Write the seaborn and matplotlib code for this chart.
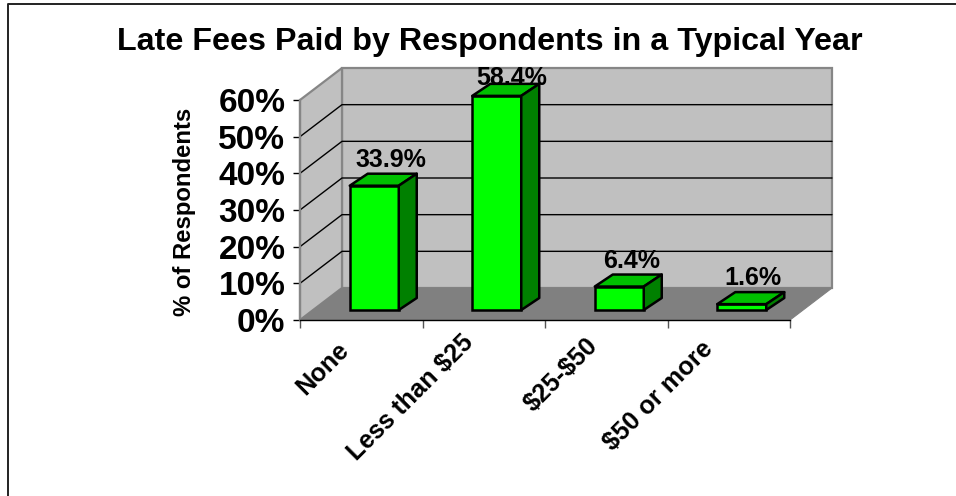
import matplotlib
matplotlib.use("Agg")
import matplotlib.pyplot as plt
from matplotlib.patches import Polygon
import pandas as pd
import seaborn as sns

categories = ["None", "Less than $25", "$25-$50", "$50 or more"]
values = [33.9, 58.4, 6.4, 1.6]
value_labels = ["33.9%", "58.4%", "6.4%", "1.6%"]
y_ticks = [0, 10, 20, 30, 40, 50, 60]

W, H = 956, 496
sns.set_theme(style="white")
plt.rcParams["font.family"] = ["Liberation Sans", "DejaVu Sans"]
plt.rcParams["font.weight"] = "bold"

fig = plt.figure(figsize=(W / 100, H / 100), dpi=100, facecolor="white")
# Front plane of the oblique box: x 300..790, y 100..320 in picture pixels
ax = fig.add_axes([300 / W, 1 - 320 / H, 490 / W, 220 / H])

PX_X = 4 / 490        # data units per horizontal pixel
PX_Y = 60 / 220       # data units per vertical pixel
def ob(x, y, dx_px, dy_px):
    """Oblique projection: shift a data point by picture pixels."""
    return (x + dx_px * PX_X, y + dy_px * PX_Y)

BOX_DX, BOX_DY = 42, 32     # depth of the box
BAR_OFF_X, BAR_OFF_Y = 13, 10  # bars stand this far behind the front plane
BAR_DX, BAR_DY = 18, 12     # depth of each bar
LABEL_DX = [17, 15, 12, 11]    # horizontal shift of value labels, pixels
LABEL_DY = 19                  # gap bar top -> label baseline, pixels
LABEL_CAP = 235 * PX_Y         # labels cannot rise above this baseline
TICK_DX = [-16, -14, -12, -19] # end of rotated labels relative to category centre
TICK_Y = [346, 339, 342, 345]
GREY_W = "#c0c0c0"
GREY_F = "#808080"
EDGE_W = "#868686"

x0, x1 = -0.5, 3.5
y0, y1 = 0, 60
def poly(pts, **kw):
    kw.setdefault("clip_on", False)
    ax.add_patch(Polygon(pts, closed=True, **kw))

# front faces through seaborn
df = pd.DataFrame({"category": categories, "value": values})
sns.barplot(data=df, x="category", y="value", ax=ax, color="#00ff00", saturation=1,
            width=0.4, edgecolor="black", linewidth=1.8, zorder=5)
ax.set_xlim(x0, x1)
ax.set_ylim(y0, y1)
bars = list(ax.containers[0])

# back wall, side wall, floor
poly([ob(x0, y0, BOX_DX, BOX_DY), ob(x1, y0, BOX_DX, BOX_DY), ob(x1, y1, BOX_DX, BOX_DY), ob(x0, y1, BOX_DX, BOX_DY)],
     facecolor=GREY_W, edgecolor=EDGE_W, lw=1.6, zorder=1)
poly([(x0, y0), ob(x0, y0, BOX_DX, BOX_DY), ob(x0, y1, BOX_DX, BOX_DY), (x0, y1)],
     facecolor=GREY_W, edgecolor=EDGE_W, lw=1.6, zorder=1)
poly([(x0, y0), (x1, y0), ob(x1, y0, BOX_DX, BOX_DY), ob(x0, y0, BOX_DX, BOX_DY)],
     facecolor=GREY_F, edgecolor=GREY_F, lw=0.8, zorder=1.1)

# gridlines on side and back wall
for t in y_ticks[1:-1]:
    ax.plot(*zip((x0, t), ob(x0, t, BOX_DX, BOX_DY), ob(x1, t, BOX_DX, BOX_DY)),
            color="black", lw=1.0, clip_on=False, zorder=1.5)

for bar, v, lab, ldx in zip(bars, values, value_labels, LABEL_DX):
    bar.set_clip_on(False)
    bar.set_x(bar.get_x() + BAR_OFF_X * PX_X)
    bar.set_y(BAR_OFF_Y * PX_Y)
    bar.set_zorder(5)
    xl = bar.get_x()
    xr = xl + bar.get_width()
    yb = BAR_OFF_Y * PX_Y
    yt = yb + v
    poly([(xl, yt), (xr, yt), ob(xr, yt, BAR_DX, BAR_DY), ob(xl, yt, BAR_DX, BAR_DY)],
         facecolor="#00c000", edgecolor="black", lw=1.8, joinstyle="round", zorder=5)
    poly([(xr, yb), ob(xr, yb, BAR_DX, BAR_DY), ob(xr, yt, BAR_DX, BAR_DY), (xr, yt)],
         facecolor="#008000", edgecolor="black", lw=1.8, joinstyle="round", zorder=5)
    tx, ty = ob((xl + xr) / 2, yt, ldx, LABEL_DY)
    ax.text(tx, min(ty, LABEL_CAP), lab, ha="center", va="baseline", fontsize=18,
            color="black", zorder=6, clip_on=False)

# axis ticks and labels
ax.set_xlabel("")
ax.set_ylabel("")
for s in ax.spines.values():
    s.set_visible(False)
ax.spines["bottom"].set_visible(True)
ax.spines["bottom"].set_color("black")
ax.spines["bottom"].set_linewidth(1.0)
ax.spines["bottom"].set_zorder(2)
ax.spines["left"].set_visible(True)
ax.spines["left"].set_color(EDGE_W)
ax.spines["left"].set_linewidth(1.6)
ax.spines["left"].set_zorder(2)

ax.set_yticks(y_ticks)
ax.set_yticklabels([f"{t}%" for t in y_ticks], fontsize=24, fontweight="bold")
ax.tick_params(axis="y", left=True, length=5, width=1, color="black", pad=5.5, labelcolor="black")
ax.set_xticks([-0.5, 0.5, 1.5, 2.5, 3.5])
ax.set_xticklabels([])
ax.tick_params(axis="x", bottom=True, length=6, width=1, color="#555555")
for i, c in enumerate(categories):
    fig.text((361 + i * 122.5 + TICK_DX[i]) / W, 1 - TICK_Y[i] / H, c, rotation=45, rotation_mode="anchor",
             ha="right", va="center", fontsize=18.2, color="black", parse_math=False)

fig.text(490 / W, 1 - 42 / H, "Late Fees Paid by Respondents in a Typical Year", ha="center", va="center",
         fontsize=23.2, color="black")
fig.text(184 / W, 1 - 212 / H, "% of Respondents", rotation=90, ha="center", va="center", fontsize=17.2, color="black")

# chart frame: only the top and left edges fall inside the picture
fig.add_artist(plt.Line2D([7.5 / W, 7.5 / W, 1], [0, 1 - 3.5 / H, 1 - 3.5 / H], color="#222222", lw=1.4))
fig.savefig("out.png", dpi=100)
